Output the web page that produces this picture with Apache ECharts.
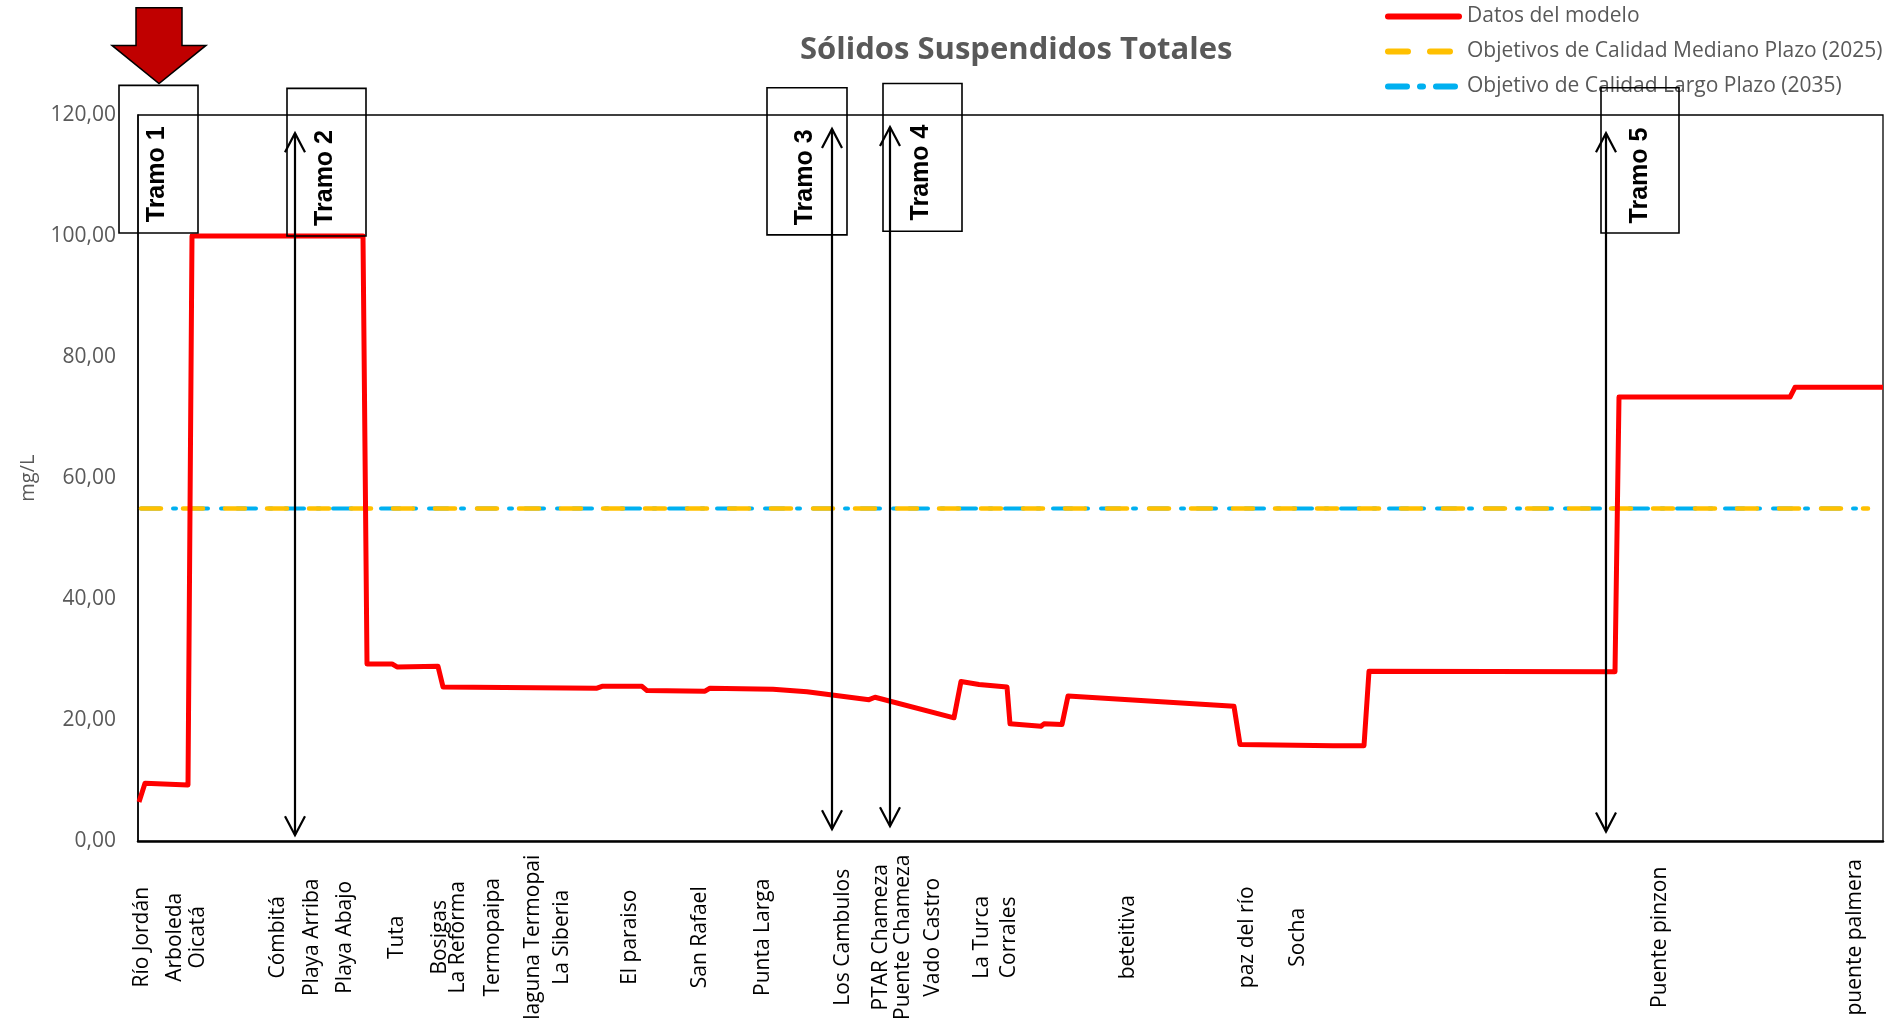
<!DOCTYPE html>
<html>
<head>
<meta charset="utf-8">
<script src="https://cdn.jsdelivr.net/npm/echarts@6/dist/echarts.min.js"></script>
<style>
html,body{margin:0;padding:0;background:#fff;}
#chart{width:1893px;height:1023px;}
</style>
</head>
<body>
<div id="chart"></div>
<script>
// ---- data (x = distance along river, arbitrary km-like units) ----
const stationNames = ['Río Jordán','Arboleda','Oicatá','Cómbitá','Playa Arriba','Playa Abajo','Tuta','Bosigas','La Reforma','Termopaipa','laguna Termopai','La Siberia','El paraiso','San Rafael','Punta Larga','Los Cambulos','PTAR Chameza','Puente Chameza','Vado Castro','La Turca','Corrales','beteitiva','paz del río','Socha','Puente pinzon','puente palmera'];
const stationKm = [0.4, 3.7, 6.0, 14.0, 17.4, 20.7, 25.9, 30.2, 32.0, 35.5, 39.5, 42.4, 49.2, 56.2, 62.5, 70.5, 74.3, 76.5, 79.5, 84.4, 87.1, 99.0, 110.9, 116.0, 152.2, 171.7];

const modelKm  = [0.1, 0.7, 5.0, 5.4, 22.5, 22.9, 25.4, 25.9, 30.0, 30.5, 45.9, 46.4, 50.4, 50.9, 56.7, 57.2, 63.5, 66.9, 70.2, 73.1, 73.7, 81.6, 82.3, 84.1, 86.9, 87.2, 90.3, 90.6, 92.4, 93.0, 109.6, 110.2, 119.5, 122.6, 123.1, 147.7, 148.1, 165.2, 165.7, 174.5];
const modelVal = [6.5, 9.6, 9.3, 100, 100, 29.3, 29.3, 28.8, 28.9, 25.5, 25.3, 25.6, 25.6, 24.9, 24.8, 25.3, 25.1, 24.7, 24.0, 23.4, 23.8, 20.4, 26.4, 25.9, 25.5, 19.4, 19.0, 19.4, 19.3, 24.0, 22.3, 16.0, 15.8, 15.8, 28.1, 28.0, 73.4, 73.4, 75.0, 75.0];

const targetKm = [0.3, 173.0];
const target2025 = [55, 55];
const target2035 = [55, 55];

const yMin = 0, yMax = 120, yStep = 20;
const xMin = 0, xMax = 174.5;

// annotations (data coordinates)
const tramoNames = ['Tramo 1','Tramo 2','Tramo 3','Tramo 4','Tramo 5'];
const tramoX0 = [-1.9, 14.9, 62.9, 74.5, 146.3];
const tramoX1 = [6.0, 22.8, 70.9, 82.4, 154.1];
const tramoYTop = [124.9, 124.4, 124.5, 125.2, 124.5];
const tramoYBot = [100.5, 100.0, 100.2, 100.8, 100.5];
const tramoTextX = [1.9, 18.7, 66.7, 78.3, 150.2];
const tramoTextY = [110.2, 109.6, 109.7, 110.5, 110.0];
const arrowX = [15.7, 69.4, 75.2, 146.8];
const arrowTop = [117.0, 117.7, 118.0, 117.0];
const arrowBot = [1.0, 2.0, 2.5, 1.6];
const bigArrow = {x: 2.1, tip: 125.2, shoulder: 131.5, top: 137.7, headHalf: 4.7, shaftHalf: 2.3};

const seriesNames = ['Datos del modelo','Objetivos de Calidad Mediano Plazo (2025)','Objetivo de Calidad Largo Plazo (2035)'];

const stationMap = {};
stationKm.forEach((k,i)=>{ stationMap[k.toFixed(1)] = stationNames[i]; });

const chart = echarts.init(document.getElementById('chart'), null, {renderer:'canvas'});
const grey = '#595959';
const font = '"Open Sans", "Noto Sans", sans-serif';

chart.setOption({
  animation: false,
  backgroundColor: '#ffffff',
  title: {
    text: 'Sólidos Suspendidos Totales',
    left: 800, top: 35, padding: 0,
    textStyle: {fontFamily: font, fontWeight: 'bold', fontSize: 31, color: grey}
  },
  legend: {
    orient: 'vertical', left: 1380, top: 1,
    itemWidth: 71, itemHeight: 14, itemGap: 14,
    itemStyle: {opacity: 0},
    lineStyle: {width: 6, cap: 'round'},
    textStyle: {fontFamily: font, fontSize: 21, color: grey, padding: [0,0,0,3]},
    data: seriesNames
  },
  grid: {left: 138, right: 10, top: 115, bottom: 180, show: true, borderColor: '#000', borderWidth: 1.3},
  xAxis: {
    type: 'value', min: xMin, max: xMax,
    splitLine: {show: false},
    axisLine: {show: true, onZero: false, lineStyle: {color: '#000', width: 2.5}},
    axisTick: {show: false},
    axisLabel: {
      customValues: stationKm,
      rotate: 90, align: 'center', verticalAlign: 'middle', margin: 96,
      fontFamily: font, fontSize: 21, color: '#000',
      formatter: v => stationMap[Number(v).toFixed(1)] || ''
    }
  },
  yAxis: {
    type: 'value', min: yMin, max: yMax, interval: yStep,
    name: 'mg/L', nameLocation: 'middle', nameGap: 100, nameRotate: 90,
    nameTextStyle: {fontFamily: font, fontSize: 20, color: grey},
    splitLine: {show: false},
    axisLine: {show: true, lineStyle: {color: '#000', width: 1.5}},
    axisTick: {show: false},
    axisLabel: {
      margin: 22, fontFamily: font, fontSize: 21, color: grey,
      formatter: v => v.toFixed(2).replace('.', ',')
    }
  },
  series: [
    {
      name: seriesNames[2], type: 'line', symbol: 'none', z: 3,
      data: targetKm.map((k,i)=>[k, target2035[i]]),
      lineStyle: {color: '#00B0F0', width: 4, type: [19, 13, 3, 13], cap: 'round'},
      itemStyle: {color: '#00B0F0'}
    },
    {
      name: seriesNames[1], type: 'line', symbol: 'none', z: 4,
      data: targetKm.map((k,i)=>[k, target2025[i]]),
      lineStyle: {color: '#FFC000', width: 4.5, type: [20, 22], cap: 'round'},
      itemStyle: {color: '#FFC000'}
    },
    {
      name: seriesNames[0], type: 'line', symbol: 'none', z: 5,
      data: modelKm.map((k,i)=>[k, modelVal[i]]),
      lineStyle: {color: '#FF0000', width: 5, join: 'round'},
      itemStyle: {color: '#FF0000'}
    }
  ]
});

// annotations built from data coordinates
function P(x, y){ return chart.convertToPixel({gridIndex: 0}, [x, y]); }
const g = [];
tramoNames.forEach((t,i)=>{
  const a = P(tramoX0[i], tramoYTop[i]), b = P(tramoX1[i], tramoYBot[i]);
  g.push({type:'rect', z: 20, shape:{x:a[0], y:a[1], width:b[0]-a[0], height:b[1]-a[1]},
    style:{fill:'none', stroke:'#000', lineWidth:1.6}});
  const c = P(tramoTextX[i], tramoTextY[i]);
  g.push({type:'text', z: 21, x:c[0], y:c[1], rotation: Math.PI/2,
    style:{text:t, fill:'#000', font:'bold 25px "Liberation Sans", Arial, sans-serif', align:'center', verticalAlign:'middle'}});
});
arrowX.forEach((ax,i)=>{
  const t = P(ax, arrowTop[i]), b = P(ax, arrowBot[i]);
  g.push({type:'line', z: 20, shape:{x1:t[0], y1:t[1], x2:b[0], y2:b[1]}, style:{stroke:'#000', lineWidth:2.2}});
  g.push({type:'polyline', z: 20, shape:{points:[[t[0]-10,t[1]+19],[t[0],t[1]],[t[0]+10,t[1]+19]]}, style:{stroke:'#000', lineWidth:2.2, fill:'none'}});
  g.push({type:'polyline', z: 20, shape:{points:[[b[0]-10,b[1]-19],[b[0],b[1]],[b[0]+10,b[1]-19]]}, style:{stroke:'#000', lineWidth:2.2, fill:'none'}});
});
{
  const A = bigArrow;
  const pts = [
    P(A.x - A.shaftHalf, A.top), P(A.x + A.shaftHalf, A.top),
    P(A.x + A.shaftHalf, A.shoulder), P(A.x + A.headHalf, A.shoulder),
    P(A.x, A.tip),
    P(A.x - A.headHalf, A.shoulder), P(A.x - A.shaftHalf, A.shoulder)
  ];
  g.push({type:'polygon', z: 22, shape:{points: pts}, style:{fill:'#C00000', stroke:'#000', lineWidth:1.5}});
}
chart.setOption({graphic: g});
</script>
</body>
</html>
